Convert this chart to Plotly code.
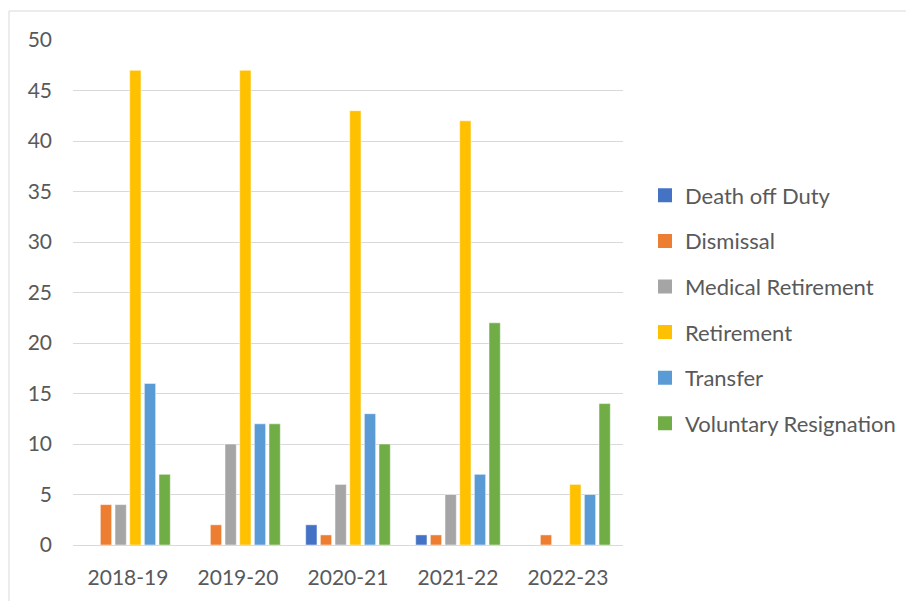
import plotly.graph_objects as go

categories = ["2018-19", "2019-20", "2020-21", "2021-22", "2022-23"]
series_names = ["Death off Duty", "Dismissal", "Medical Retirement", "Retirement", "Transfer", "Voluntary Resignation"]
death_off_duty = [0, 0, 2, 1, 0]
dismissal = [4, 2, 1, 1, 1]
medical_retirement = [4, 10, 6, 5, 0]
retirement = [47, 47, 43, 42, 6]
transfer = [16, 12, 13, 7, 5]
voluntary_resignation = [7, 12, 10, 22, 14]
colors = ["#4472C4", "#ED7D31", "#A5A5A5", "#FFC000", "#5B9BD5", "#70AD47"]

values = [death_off_duty, dismissal, medical_retirement, retirement, transfer, voluntary_resignation]

fig = go.Figure()
for i, (name, vals) in enumerate(zip(series_names, values)):
    fig.add_trace(go.Bar(
        name=name, x=categories, y=vals,
        marker=dict(color=colors[i], line=dict(color="white", width=0.5)),
        legendgroup=name, showlegend=False,
    ))
# legend-only entries with larger square swatches
for i, name in enumerate(series_names):
    fig.add_trace(go.Scatter(
        name=name, x=[None], y=[None], mode="markers",
        marker=dict(symbol="square", size=14, color=colors[i], line=dict(width=0)),
        legendgroup=name, showlegend=True, hoverinfo="skip",
    ))

OFF = 8  # default body margin of the page
W, H = 914 - OFF, 601 - OFF
# plot area in page pixels: x 73..623, y 40..545
L, R, T, B = 73 - OFF, 914 - 623, 40 - OFF, 601 - 545
pw, ph = W - L - R, H - T - B

def px_x(p):
    return (p - OFF - L) / pw

def px_y(p):
    return 1 - (p - OFF - T) / ph

font = "Lato, Open Sans, sans-serif"
FS = 21
fig.update_layout(
    width=W, height=H,
    margin=dict(l=L, r=R, t=T, b=B, pad=0),
    paper_bgcolor="white", plot_bgcolor="white",
    barmode="group", bargap=0.2, bargroupgap=0.23,
    font=dict(family=font, color="#595959", size=FS),
    xaxis=dict(type="category", showgrid=False, showline=True, linecolor="#D9D9D9", linewidth=1,
               ticks="", ticklabelstandoff=14, tickfont=dict(size=FS, color="#595959")),
    yaxis=dict(range=[0, 50], dtick=5, showgrid=True, gridcolor="#D9D9D9", gridwidth=1,
               zeroline=False, showline=False, ticks="", ticklabelstandoff=20,
               tickfont=dict(size=FS, color="#595959")),
    legend=dict(x=px_x(645), xanchor="left", y=1 - (309.5 - 40) / 505, yanchor="middle",
                font=dict(size=22, color="#595959"), traceorder="grouped",
                tracegroupgap=14, itemwidth=30),
    showlegend=True,
    shapes=[
        dict(type="line", xref="paper", yref="paper", x0=px_x(9), x1=px_x(930), y0=px_y(11), y1=px_y(11),
             line=dict(color="#D9D9D9", width=1)),
        dict(type="line", xref="paper", yref="paper", x0=px_x(9), x1=px_x(9), y0=px_y(11), y1=px_y(620),
             line=dict(color="#D9D9D9", width=1)),
    ],
)

fig.write_html("out.html")
